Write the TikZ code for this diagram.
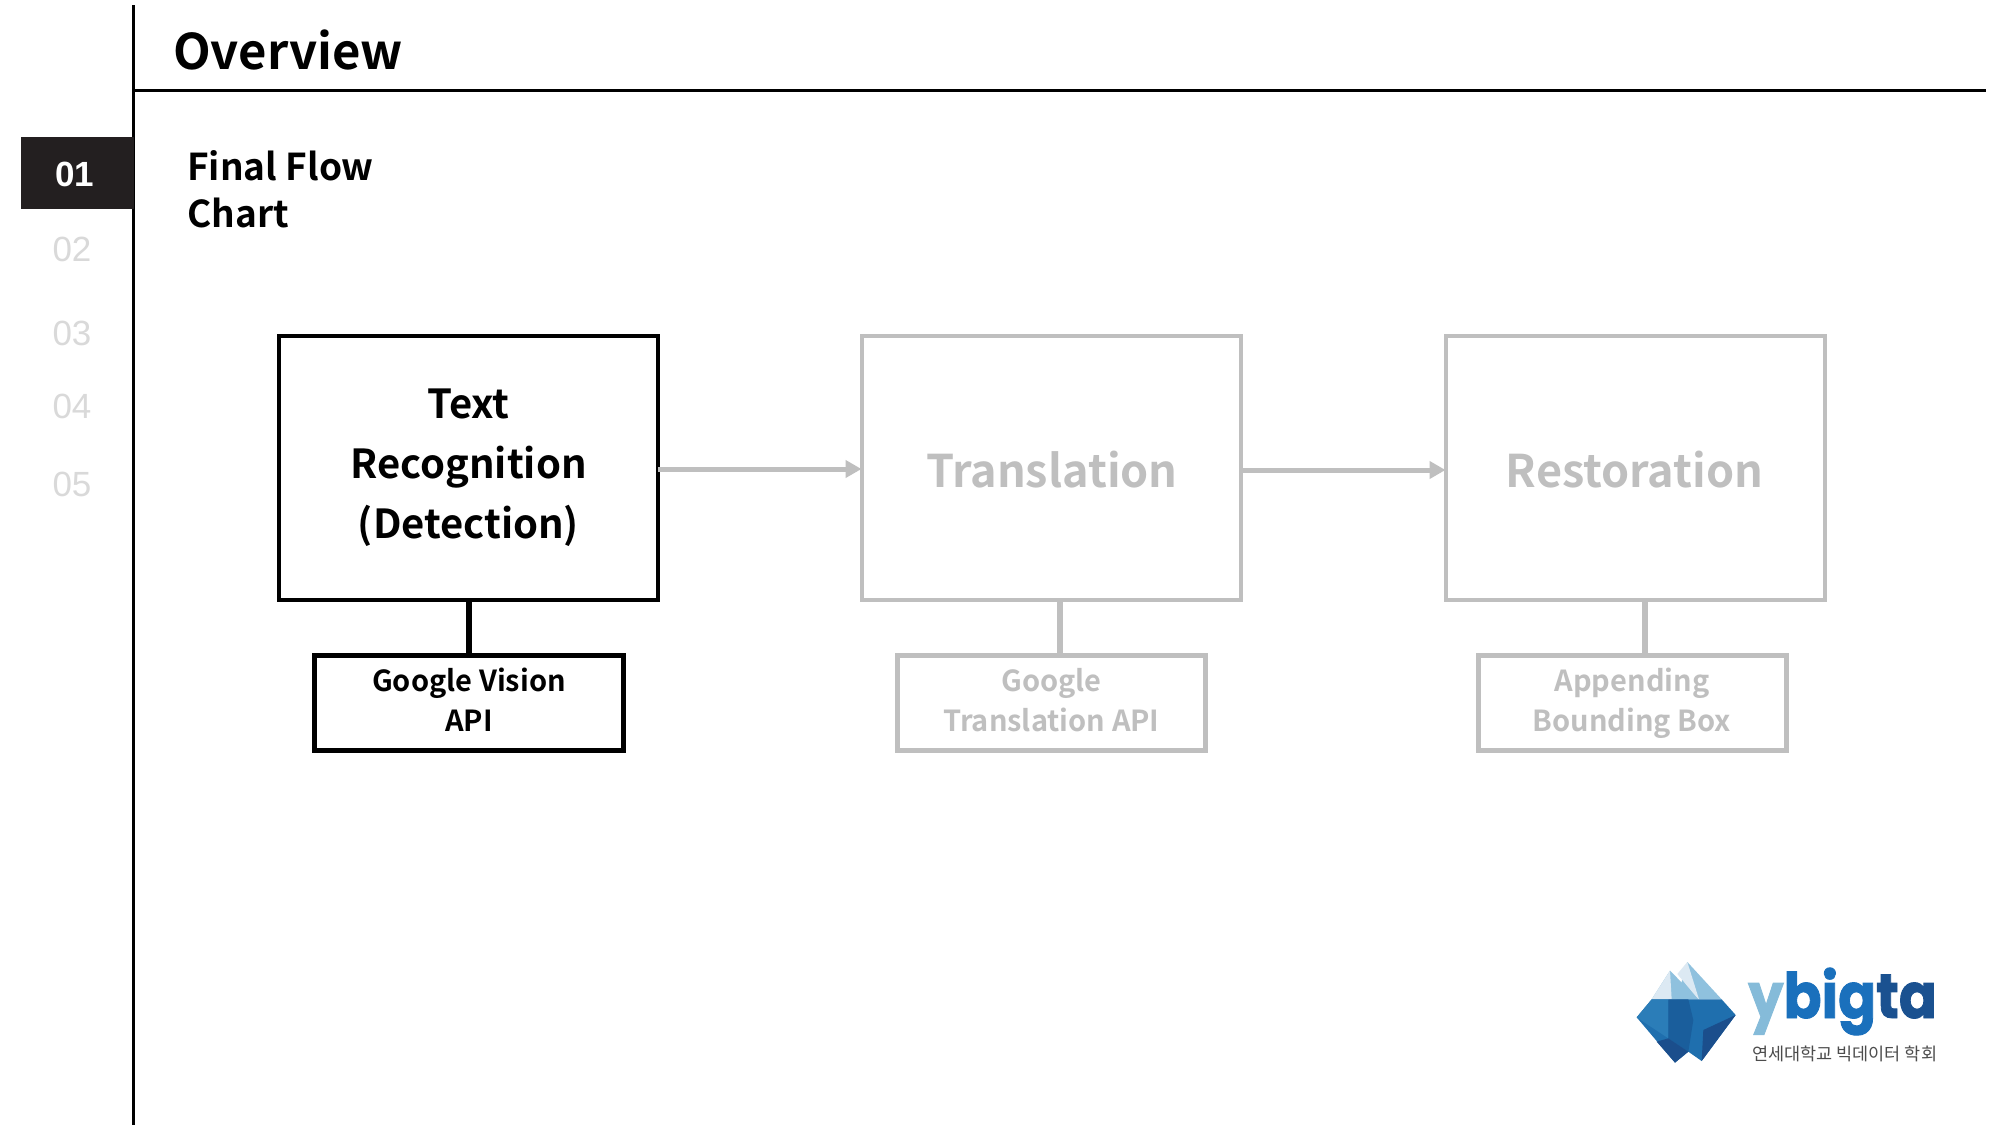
\documentclass[tikz,border=0pt]{standalone}
\usepackage{fontspec}
\setmainfont{Noto Sans CJK KR}[BoldFont={Noto Sans CJK KR Bold}]
\newfontfamily\numfont{Liberation Sans}
\newfontfamily\krfont{Noto Sans CJK KR}
\newfontfamily\logofont{Poppins}[BoldFeatures={FakeBold=1.5}]
\usetikzlibrary{arrows.meta}
\definecolor{fade}{HTML}{BFBFBF}
\definecolor{numfade}{HTML}{D9D9D9}
\definecolor{dark}{HTML}{231F20}
\definecolor{ice1}{HTML}{1F6FAE}
\definecolor{ice2}{HTML}{1A5E9C}
\definecolor{ice3}{HTML}{2B7DB8}
\definecolor{ice4}{HTML}{1B4E8C}
\definecolor{snow1}{HTML}{DCE9F3}
\definecolor{snow2}{HTML}{8FC1DE}
\definecolor{logoa}{HTML}{85BBD9}
\definecolor{logob}{HTML}{1A70BC}
\definecolor{logoc}{HTML}{1A5190}
\tikzset{
  mainbox/.style={draw,rectangle,line width=4pt,minimum width=379pt,minimum height=264pt,outer sep=0pt,inner sep=0pt,align=center,font=\fontsize{40}{60}\selectfont\bfseries},
  subbox/.style={draw,rectangle,line width=5pt,minimum height=95pt,outer sep=0pt,inner sep=0pt,align=center,font=\fontsize{29}{40}\selectfont\bfseries},
  on/.style={draw=black,text=black},
  off/.style={draw=fade,text=fade},
  navnum/.style={font=\fontsize{35}{35}\selectfont\numfont,text=numfade,inner sep=0pt},
  flowarrow/.style={draw=fade,line width=5pt,-{Triangle[length=16pt,width=17pt]}},
  stem/.style={line width=6pt}
}
\begin{document}
\begin{tikzpicture}[x=1pt,y=-1pt]
\useasboundingbox[fill=white] (0,0) rectangle (2000,1125);
% frame
\coordinate (rt) at (133.5,5); \coordinate (rb) at (133.5,1125);
\coordinate (hl) at (133.5,90.5); \coordinate (hr) at (1986,90.5);
\draw[line width=3pt] (rt) -- (rb);
\draw[line width=3pt] (hl) -- (hr);
\node[fill=dark,minimum width=113pt,minimum height=72pt,inner sep=0pt,outer sep=0pt] (navbar) at (77.5,173) {};
\node[inner sep=0pt,text=white,font=\fontsize{35}{35}\selectfont\numfont\bfseries] (n1) at (74.5,174) {01};
\node[navnum] (n2) at (72,249) {02};
\node[navnum] (n3) at (72,333) {03};
\node[navnum] (n4) at (72,406) {04};
\node[navnum] (n5) at (72,484) {05};
% titles
\node[anchor=base west,inner sep=0pt,font=\fontsize{49}{60}\selectfont\bfseries] (title) at (173,69) {Overview};
\node[anchor=north west,inner sep=0pt,align=left,font=\fontsize{37}{47}\selectfont\bfseries] (sub) at (187,150) {Final Flow\\Chart};
% main boxes
\node[mainbox,on] (b1) at (468.5,468) {Text\\Recognition\\(Detection)};
\node[mainbox,off] (b2) at (1051,468) {};
\node[mainbox,off] (b3) at (1635,468) {};
\node[inner sep=0pt,text=fade,font=\fontsize{45}{60}\selectfont\bfseries] (t2) at (1052,470) {Translation};
\node[inner sep=0pt,text=fade,font=\fontsize{45}{60}\selectfont\bfseries] (t3) at (1634.5,470) {Restoration};
% sub boxes
\node[subbox,on,minimum width=309pt] (s1) at (469,703) {Google Vision\\API\vphantom{g}};
\node[subbox,off,minimum width=308pt] (s2) at (1051.5,703) {Google\\Translation API\vphantom{g}};
\node[subbox,off,minimum width=308pt] (s3) at (1632,703) {Appending\\Bounding Box\vphantom{g}};
% connectors
\coordinate (c1a) at (469,600); \coordinate (c1b) at (469,655);
\coordinate (c2a) at (1060,602); \coordinate (c2b) at (1060,655);
\coordinate (c3a) at (1645,602); \coordinate (c3b) at (1645,655);
\draw[stem,black] (c1a) -- (c1b);
\draw[stem,fade] (c2a) -- (c2b);
\draw[stem,fade] (c3a) -- (c3b);
\draw[flowarrow] (b1.east |- 0,469) -- (b2.west |- 0,469);
\draw[flowarrow] (b2.east |- 0,470) -- (b3.west |- 0,470);
% logo
\begin{scope}[shift={(1600,940)},x=0.3333pt,y=-0.3333pt]
  \fill[snow2] (262,66) -- (365,178) -- (230,178) -- cycle;
  \fill[snow1] (262,66) -- (232,102) -- (295,178) -- (297,178) -- cycle;
  \fill[snow2] (210,92) -- (295,178) -- (155,178) -- cycle;
  \fill[snow1] (210,92) -- (215,178) -- (155,178) -- cycle;
  \fill[ice1] (155,178) -- (365,178) -- (407,225) -- (305,363) -- (265,335) -- (225,368) -- (110,232) -- cycle;
  \fill[ice3] (155,178) -- (205,178) -- (205,295) -- (110,232) -- cycle;
  \fill[ice2] (205,178) -- (265,178) -- (280,240) -- (265,335) -- (205,295) -- cycle;
  \fill[ice4] (407,225) -- (305,363) -- (310,270) -- cycle;
  \fill[ice4] (170,305) -- (205,295) -- (265,335) -- (225,368) -- cycle;
\end{scope}
\node[anchor=base west,inner sep=0pt,yscale=1.12,font=\fontsize{56}{60}\selectfont\logofont\bfseries] (logo) at (1748,1018) {\textcolor{logoa}{y}\textcolor{logob}{big}\textcolor{logoc}{ta}};
\node[anchor=base west,inner sep=0pt,text=black!70,font=\fontsize{17.5}{20}\selectfont\krfont] (kr) at (1752,1060) {연세대학교 빅데이터 학회};
\end{tikzpicture}
\end{document}
